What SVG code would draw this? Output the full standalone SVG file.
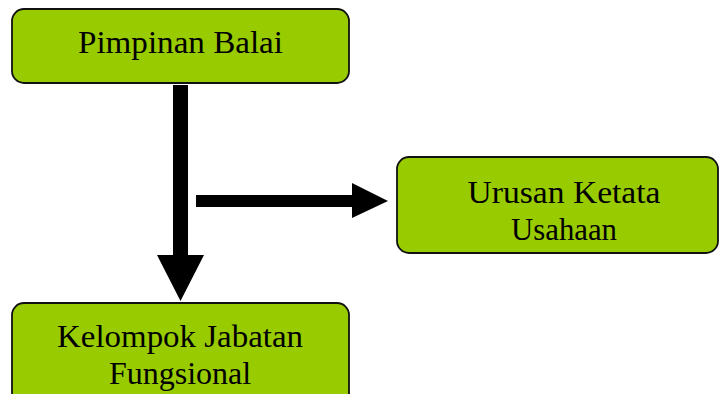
<svg xmlns="http://www.w3.org/2000/svg" width="722" height="394" viewBox="0 0 722 394">
<style>
.box{fill:#99CC00;stroke:#111;stroke-width:1.8}
.t{font-family:"Liberation Serif","Times New Roman",serif;font-size:32px;fill:#000;text-anchor:middle}
.arr{fill:#000}
</style>
<rect x="0" y="0" width="722" height="394" fill="#fff"/>
<g id="connectors">
<polygon class="arr" points="173,85 188,85 188,255 204,255 180.5,301 157,255 173,255"/>
<polygon class="arr" points="196,195 352,195 352,183 388,201 352,218 352,207 196,207"/>
</g>
<g id="pimpinan">
<rect class="box" x="12" y="9" width="337" height="74" rx="12"/>
<text class="t" x="180.5" y="53" textLength="205" lengthAdjust="spacingAndGlyphs">Pimpinan Balai</text>
</g>
<g id="urusan">
<rect class="box" x="397" y="157" width="321" height="96" rx="12"/>
<text class="t" x="564" y="203" textLength="193" lengthAdjust="spacingAndGlyphs">Urusan Ketata</text>
<text class="t" x="564" y="239.5" textLength="106" lengthAdjust="spacingAndGlyphs">Usahaan</text>
</g>
<g id="kelompok">
<rect class="box" x="12" y="303" width="337" height="110" rx="12"/>
<text class="t" x="180" y="347" textLength="246" lengthAdjust="spacingAndGlyphs">Kelompok Jabatan</text>
<text class="t" x="180" y="384">Fungsional</text>
</g>
</svg>
